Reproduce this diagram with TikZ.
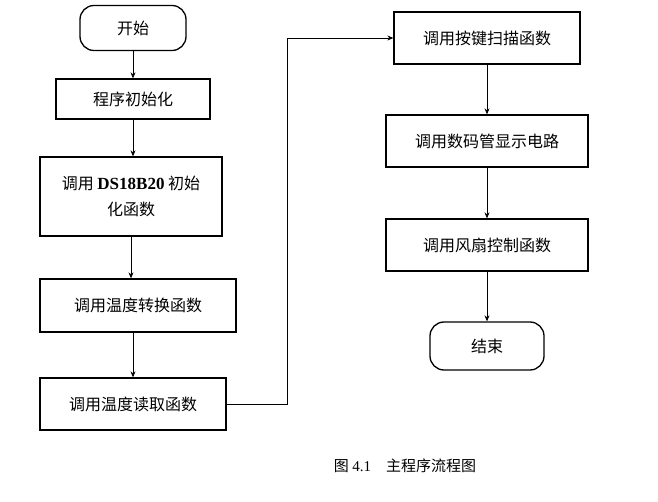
\documentclass[tikz,border=0pt]{standalone}
\usepackage{fontspec}
\setmainfont{Liberation Serif}
\newfontfamily\cjk{Noto Sans CJK SC}
\usetikzlibrary{arrows.meta}
\begin{document}
\begin{tikzpicture}[x=1pt,y=-1pt,
  box/.style={draw,line width=1.3pt,inner sep=0pt,font=\cjk\fontsize{16}{26}\selectfont,align=center},
  term/.style={box,rounded corners=14pt},
  arr/.style={-{Stealth[length=6pt,width=5pt]},line width=0.7pt}]
\useasboundingbox (0,0) rectangle (658,502);
\node[term,minimum width=106pt,minimum height=45pt] (start) at (133,28) {开始};
\node[box,minimum width=154pt,minimum height=40pt] (init) at (133,99) {程序初始化};
\node[box,minimum width=182pt,minimum height=79pt] (ds) at (131,196.5) {调用 {\rmfamily\bfseries\fontsize{17}{26}\selectfont DS18B20} 初始\\化函数};
\node[box,minimum width=196pt,minimum height=53pt] (conv) at (138,305.5) {调用温度转换函数};
\node[box,minimum width=186pt,minimum height=52pt] (read) at (133,404) {调用温度读取函数};
\node[box,minimum width=186pt,minimum height=52pt] (key) at (487,38) {调用按键扫描函数};
\node[box,minimum width=202pt,minimum height=52pt] (disp) at (487,141) {调用数码管显示电路};
\node[box,minimum width=202pt,minimum height=52pt] (fan) at (487,245) {调用风扇控制函数};
\node[term,minimum width=114pt,minimum height=48pt] (end) at (487,346) {结束};
\node[font=\cjk\fontsize{15}{18}\selectfont] (cap) at (405,466) {图 {\rmfamily 4.1}\quad 主程序流程图};
\draw[arr] (start) -- (init);
\draw[arr] (init) -- (init|-ds.north);
\draw[arr] (ds) -- (ds|-conv.north);
\draw[arr] (read|-conv.south) -- (read);
\draw[arr] (read.east) -- (287,404) -- (287,38) -- (key.west);
\draw[arr] (key) -- (disp);
\draw[arr] (disp) -- (fan);
\draw[arr] (fan) -- (end);
\end{tikzpicture}
\end{document}
